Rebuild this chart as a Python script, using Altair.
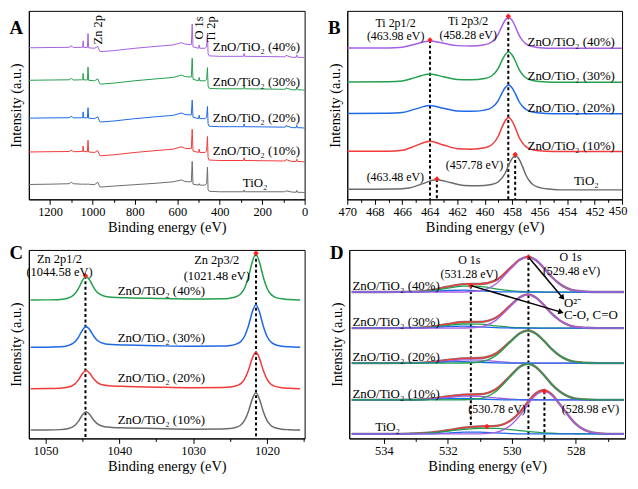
import math
import pandas as pd
import altair as alt

FONT = "Liberation Serif"
PURPLE = "#A65FE3"
GREEN = "#23A04E"
BLUE = "#1F68E6"
RED = "#F23A3A"
GRAY = "#6B6B6B"
MARK_RED = "#FF1F1F"

WA = 278
WB = 277
WC = 278
WD = 278
H1 = 190
H2 = 190

# ---------------- Panel A : survey spectra ----------------
A_X = [1300, 1200, 1110, 1100, 1090, 1050, 1046, 1044, 1042, 1024, 1021, 1018, 990, 975, 966, 960,
       900, 800, 700, 620, 580, 565, 545, 534, 530, 526, 500, 497, 494, 470, 462, 458, 455, 450,
       400, 288, 285, 282, 200, 100, 92, 88, 60, 40, 37, 34, 10, 0]
A_40 = [160, 160.3, 160.5, 162, 160.3, 160.5, 160.5, 167.3, 160.5, 160.3, 175, 160, 159.5, 161.5, 156.5, 156,
        157, 159.5, 161.5, 163, 165.5, 164, 163.5, 163.5, 185, 161, 159.5, 163, 159.5, 159.5, 161, 174, 154, 151.5,
        151, 151, 154, 151, 150.8, 150.5, 150.5, 152, 150, 150, 152.5, 150, 149.8, 149.5]
A_30 = [125.7, 126, 126.2, 127.7, 126, 126.2, 126.2, 133, 126.2, 126, 139.7, 125.7, 125.2, 127.2, 122.2, 121.7,
        122.7, 125.2, 127.2, 128.7, 131.2, 129.7, 129.2, 129.2, 149, 126.7, 125.2, 128.7, 125.2, 125.2, 126.7, 139, 119.7, 117.2,
        116.7, 116.7, 119.7, 116.7, 116.5, 116.2, 116.2, 117.7, 115.7, 115.7, 118.2, 115.7, 115.5, 115.2]
A_20 = [85.7, 86, 86.2, 87.7, 86, 86.2, 86.2, 92.3, 86.2, 86, 96.7, 85.7, 85.2, 87.2, 82.2, 81.7,
        82.7, 85.2, 87.2, 88.7, 91.2, 89.7, 89.2, 89.2, 104.7, 86.7, 85.2, 88.7, 85.2, 85.2, 86.7, 98, 79.7, 77.2,
        76.7, 76.7, 79.7, 76.7, 76.5, 76.2, 76.2, 77.7, 75.7, 75.7, 78.2, 75.7, 75.5, 75.2]
A_10 = [50, 50.3, 50.5, 52, 50.3, 50.5, 50.5, 56.3, 50.5, 50.3, 62.3, 50, 49.5, 51.5, 46.5, 46,
        47, 49.5, 51.5, 53, 55.5, 54, 53.5, 53.5, 74, 51, 49.5, 53, 49.5, 49.5, 51, 66.3, 44, 41.5,
        41, 41, 44, 41, 40.8, 40.5, 40.5, 42, 40, 40, 42.5, 40, 39.8, 39.5]
A_T = [15.7, 16, 16.5, 18, 16.5, 16, 16, 16, 16, 16, 16, 16, 15.5, 18, 13.5, 13,
       14, 15.5, 17, 18.5, 20.5, 19, 18.5, 18.5, 40, 16, 15, 16.5, 15, 15, 16.5, 34, 10, 8.5,
       8, 8, 10, 8, 8, 8, 8, 9, 7.7, 7.5, 9.5, 7.5, 7.3, 7.2]
A_LAB_T = ["ZnO/TiO\u2082 (40%)", "ZnO/TiO\u2082 (30%)", "ZnO/TiO\u2082 (20%)", "ZnO/TiO\u2082 (10%)", "TiO\u2082"]
A_LAB_X = [227, 227, 227, 227, 233]
A_LAB_Y = [160.7, 124, 85.7, 50.7, 17.3]
A_PK_T = ["Zn 2p", "O 1s", "Ti 2p"]
A_PK_X = [973.5, 497, 441]
A_PK_Y = [179, 181, 179.5]

# ---------------- Panel B : Ti 2p ----------------
B_X = [470, 467, 466, 465, 464, 463, 462, 461, 460, 459.5, 459, 458.75, 458.5, 458.25, 458, 457.75,
       457.5, 457.25, 457, 456.5, 456, 455, 450]
B_40 = [159.7, 159.8, 160.6, 164.1, 167.3, 164.8, 162.3, 161.9, 163.3, 166.0, 174.7, 182.7, 189.3, 192.3, 188.9, 181.8,
        173.4, 167.8, 164.2, 161.3, 160.1, 159.4, 159.4]
B_30 = [124.0, 124.1, 124.9, 128.8, 132.3, 129.5, 126.6, 126.2, 127.5, 130.2, 138.6, 146.4, 152.8, 155.7, 152.4, 145.5,
        137.3, 131.9, 128.4, 125.5, 124.4, 123.7, 123.7]
B_20 = [90.7, 90.8, 91.6, 95.5, 99.0, 96.2, 93.3, 92.9, 94.2, 96.7, 104.6, 111.9, 118.0, 120.7, 117.6, 111.0,
        103.3, 98.2, 94.9, 92.2, 91.1, 90.4, 90.4]
B_10 = [50.7, 50.8, 51.8, 56.7, 61.3, 57.4, 53.5, 53.0, 54.4, 57.4, 66.9, 75.7, 83.0, 86.3, 82.6, 74.8,
        65.6, 59.6, 55.6, 52.4, 51.2, 50.4, 50.4]
B_XT = [470, 466.5, 465.5, 464.5, 463.5, 462.5, 461.5, 460.5, 459.5, 459, 458.5, 458.25, 458, 457.75, 457.5, 457.25,
        457, 456.75, 456.5, 456, 455.5, 454.5, 450]
B_T = [10.7, 10.8, 11.9, 16.6, 20.7, 17.8, 14.7, 14.3, 15.7, 18.6, 27.8, 36.3, 43.3, 46.3, 42.6, 34.8,
       25.7, 19.6, 15.7, 12.4, 11.1, 10.0, 10.0]
B_LAB_X = [453.7, 453.7, 453.7, 453.7, 452.6]
B_LAB_Y = [165.7, 130, 96.7, 56.7, 19]
B_ANN_T = ["Ti 2p1/2", "(463.98 eV)", "Ti 2p3/2", "(458.28 eV)", "(463.48 eV)", "(457.78 eV)"]
B_ANN_X = [466.48, 466.48, 461.2, 461.2, 466.5, 460.74]
B_ANN_Y = [186.5, 172.2, 188, 173.7, 23.3, 36.3]
B_PK_X = [463.98, 458.28, 463.48, 457.78]
B_PK_Y = [168.3, 193.3, 21.5, 47.3]

# ---------------- Panel C : Zn 2p ----------------
C_X = [1052, 1050, 1048, 1047, 1046, 1045.5, 1045, 1044.5, 1044, 1043.5, 1043, 1042, 1041, 1039, 1035, 1030,
       1026, 1025, 1024, 1023.5, 1023, 1022.5, 1022, 1021.5, 1021, 1020.5, 1020, 1019.5, 1019, 1018, 1017, 1015.5]
C_40 = [144.7, 144.8, 145.3, 146.5, 151.1, 157.0, 164.9, 169.3, 165.4, 158.1, 152.7, 148.6, 147.6, 147.0, 146.3, 145.7,
        146.0, 146.6, 148.7, 151.5, 157.7, 169.0, 184.2, 192.7, 184.0, 168.7, 157.2, 150.9, 148.0, 145.9, 145.2, 144.7]
C_30 = [95.3, 95.4, 95.8, 96.9, 101.0, 106.2, 113.1, 117.0, 113.6, 107.3, 102.6, 99.0, 98.1, 97.6, 96.9, 96.3,
        96.5, 97.1, 99.1, 101.6, 107.3, 117.8, 131.9, 139.7, 131.7, 117.5, 106.8, 101.0, 98.4, 96.4, 95.7, 95.3]
C_20 = [52.0, 52.1, 52.5, 53.4, 57.0, 61.5, 67.6, 71.0, 68.1, 62.6, 58.6, 55.5, 54.8, 54.3, 53.6, 53.0,
        53.2, 53.7, 55.4, 57.5, 62.5, 71.5, 83.5, 90.3, 83.4, 71.2, 62.0, 56.9, 54.7, 53.0, 52.4, 52.0]
C_10 = [8.7, 8.8, 9.2, 10.1, 13.8, 18.4, 24.5, 28.0, 25.0, 19.5, 15.4, 12.2, 11.5, 11.0, 10.3, 9.7,
        9.9, 10.4, 12.1, 14.3, 19.3, 28.5, 40.8, 47.7, 40.7, 28.2, 18.8, 13.7, 11.4, 9.7, 9.1, 8.7]
C_LAB_X = [1034.3, 1034.3, 1034.3, 1034.3]
C_LAB_Y = [154.3, 104.7, 63, 18.7]
C_ANN_T = ["Zn 2p1/2", "(1044.58 eV)", "Zn 2p3/2", "(1021.48 eV)"]
C_ANN_X = [1048.1, 1048.1, 1026.8, 1026.8]
C_ANN_Y = [187.6, 174.4, 186, 170]
C_PK_X = [1044.58, 1021.48]
C_PK_Y = [170, 193.5]

# ---------------- Panel D : O 1s (fitted) ----------------
D_X = [535, 534, 533, 532.5, 532, 531.5, 531, 530.5, 530, 529.75, 529.5, 529.25, 529, 528.75, 528.5, 528,
       527.5, 527, 526.5]
D_BASE = [153.0, 115.3, 78.7, 40.3, 4.7]
D_MAIN = [
    [0, 0, 0, 0, 0, 0.1, 1.3, 8.4, 25.3, 33.3, 36.6, 33.3, 25.3, 15.7, 8.4, 1.3, 0.1, 0, 0],
    [0, 0, 0, 0, 0, 0.1, 1.2, 8.1, 24.2, 31.9, 35, 31.9, 24.2, 15.1, 8.1, 1.2, 0.1, 0, 0],
    [0, 0, 0, 0, 0, 0.1, 1.2, 7.8, 23.5, 30.9, 34, 30.9, 23.5, 14.6, 7.8, 1.2, 0.1, 0, 0],
    [0, 0, 0, 0, 0, 0.1, 1.3, 8.7, 26.0, 34.3, 37.7, 34.3, 26.0, 16.2, 8.7, 1.3, 0.1, 0, 0],
    [0, 0, 0, 0, 0, 0, 0.1, 1.6, 10.2, 19.1, 30.7, 40.5, 44.5, 40.5, 30.7, 10.2, 1.6, 0.1, 0],
]
D_SEC = [
    [0, 0, 0.3, 1.5, 4.0, 6.2, 5.9, 3.4, 1.2, 0.6, 0.2, 0.1, 0, 0, 0, 0, 0, 0, 0],
    [0, 0, 0.2, 1.0, 2.7, 4.3, 4.1, 2.3, 0.8, 0.4, 0.2, 0.1, 0, 0, 0, 0, 0, 0, 0],
    [0, 0, 0.2, 0.8, 2.1, 3.4, 3.2, 1.8, 0.6, 0.3, 0.1, 0, 0, 0, 0, 0, 0, 0, 0],
    [0, 0, 0.2, 0.9, 2.4, 3.8, 3.6, 2.1, 0.7, 0.3, 0.1, 0.1, 0, 0, 0, 0, 0, 0, 0],
    [0, 0, 0.6, 1.4, 3.0, 4.7, 5.8, 5.8, 4.4, 3.5, 2.6, 1.8, 1.2, 0.7, 0.4, 0.2, 0, 0, 0],
]
D_BLUE = [
    [0, 0, 0.1, 0.6, 1.6, 2.0, 1.2, 0.4, 0.1, 0, 0, 0, 0, 0, 0, 0, 0, 0, 0],
    [0, 0, 0.1, 0.6, 1.6, 2.0, 1.2, 0.4, 0.1, 0, 0, 0, 0, 0, 0, 0, 0, 0, 0],
    [0, 0, 0.1, 0.5, 1.2, 1.5, 0.9, 0.3, 0, 0, 0, 0, 0, 0, 0, 0, 0, 0, 0],
    [0, 0, 0.1, 0.5, 1.2, 1.5, 0.9, 0.3, 0, 0, 0, 0, 0, 0, 0, 0, 0, 0, 0],
    [0, 0, 0, 0.2, 0.8, 1.8, 1.9, 1.0, 0.3, 0.1, 0, 0, 0, 0, 0, 0, 0, 0, 0],
]
D_ENV = [
    [0, 0, 0.4, 2.1, 5.6, 8.3, 8.4, 12.2, 26.6, 33.9, 36.8, 33.4, 25.3, 15.7, 8.4, 1.3, 0.1, 0, 0],
    [0, 0, 0.3, 1.6, 4.3, 6.4, 6.5, 10.8, 25.1, 32.3, 35.2, 32.0, 24.2, 15.1, 8.1, 1.2, 0.1, 0, 0],
    [0, 0, 0.3, 1.3, 3.3, 5.0, 5.3, 9.9, 24.1, 31.2, 34.1, 30.9, 23.5, 14.6, 7.8, 1.2, 0.1, 0, 0],
    [0, 0, 0.3, 1.4, 3.6, 5.4, 5.8, 11.1, 26.7, 34.6, 37.8, 34.4, 26.0, 16.2, 8.7, 1.3, 0.1, 0, 0],
    [0, 0, 0.6, 1.6, 3.8, 6.5, 7.8, 8.4, 14.9, 22.7, 33.3, 42.3, 45.7, 41.2, 31.1, 10.4, 1.6, 0.1, 0],
]
D_MAIN_COL = [PURPLE, PURPLE, GREEN, GREEN, PURPLE]
D_SEC_COL = [GREEN, GREEN, PURPLE, PURPLE, GREEN]
D_LAB_T = A_LAB_T
D_LAB_X = [534.98, 534.98, 534.98, 534.98, 533.88]
D_LAB_Y = [159, 121.3, 84.7, 46.3, 12]
D_ANN_T = ["O 1s", "(531.28 eV)", "O 1s", "(529.48 eV)", "(530.78 eV)", "(528.98 eV)"]
D_ANN_X = [531.33, 531.33, 528.16, 528.13, 530.46, 527.54]
D_ANN_Y = [186.5, 172.3, 189.2, 175.0, 30.3, 30.3]
D_ANN2_T = ["O\u00b2\u207b", "C-O, C=O"]
D_ANN2_X = [528.37, 528.37]
D_ANN2_Y = [142, 128.7]
D_PK_X = [531.28, 529.48, 528.98, 530.78]
D_PK_Y = [159.7, 189.7, 49.3, 12.5]
D_DASH_X = [531.28, 529.48, 528.98]
D_DASH_Y = [159.7, 189.7, 49.3]
D_DASH_Y2 = [12, 0, 0]
D_ARR_X = [529.48, 531.28]
D_ARR_Y = [189.7, 159.7]
D_ARR_X2 = [528.41, 528.46]
D_ARR_Y2 = [147, 132]

A_DOM = (0, 1300)
B_DOM = (450, 470)
C_DOM = (1014.9, 1052.25)
D_DOM = (526.46, 535.08)
Y_TOP = 199
Y_BOT = 197

AXIS_STYLE = dict(labelFont=FONT, titleFont=FONT, labelColor="black", titleColor="black",
                  domainColor="black", tickColor="black", titleFontWeight="normal",
                  labelFontWeight="normal", labelFontSize=12.5, titleFontSize=14.5,
                  domainWidth=1, tickWidth=1)


def make_enc(dom, ticks, major, ymax, label_test=None):
    lt = major if label_test is None else label_test
    xaxis = alt.Axis(title="Binding energy (eV)", values=ticks, format="d",
                     labelExpr="(" + lt + ") ? datum.label : ''",
                     tickSize={"condition": {"test": major, "value": 5}, "value": 3},
                     grid=False, labelFlush=False, labelOverlap=False, labelPadding=1,
                     titlePadding=3, labelAngle=0, **AXIS_STYLE)
    xscale = alt.Scale(domain=list(dom), reverse=True, nice=False, zero=False)
    yaxis = alt.Axis(title="Intensity (a.u.)", labels=False, ticks=False, grid=False,
                     titlePadding=5, **AXIS_STYLE)
    yscale = alt.Scale(domain=[0, ymax], nice=False, zero=False)

    def X(f="x"):
        return alt.X(f + ":Q", scale=xscale, axis=xaxis)

    def Y(f="y"):
        return alt.Y(f + ":Q", scale=yscale, axis=yaxis)
    return X, Y


def series_df(xs_list, ys_list, colors, base=None):
    rows = []
    for i, (xs, ys, c) in enumerate(zip(xs_list, ys_list, colors)):
        b = 0 if base is None else base[i]
        for x, y in zip(xs, ys):
            rows.append({"x": x, "y": y + b, "s": str(i), "c": c})
    return pd.DataFrame(rows)


def lines(df, X, Y, width, interp):
    return alt.Chart(df).mark_line(strokeWidth=width, interpolate=interp).encode(
        x=X(), y=Y(), color=alt.Color("c:N", scale=None), detail="s:N")


def texts(ts, xs, ys, X, Y, size=13, align="center", baseline="middle", angle=0):
    df = pd.DataFrame({"x": xs, "y": ys, "t": ts})
    kw = dict(font=FONT, fontSize=size, color="black", align=align, baseline=baseline)
    if angle:
        kw["angle"] = angle
    return alt.Chart(df).mark_text(**kw).encode(x=X(), y=Y(), text="t:N")


def letter(ch, yoff):
    return alt.Chart(pd.DataFrame({"t": [ch]})).mark_text(
        font=FONT, fontSize=19, fontWeight="bold", align="left", baseline="top", color="black"
    ).encode(x=alt.value(-19.5), y=alt.value(yoff), text="t:N")


def dashes(xs, ys, y2s, X, Y):
    df = pd.DataFrame({"x": xs, "y": ys, "y2": y2s})
    return alt.Chart(df).mark_rule(color="black", strokeWidth=2, strokeDash=[3, 2.5]).encode(
        x=X(), y=Y(), y2=alt.Y2("y2"))


def markers(xs, ys, X, Y):
    df = pd.DataFrame({"x": xs, "y": ys})
    return alt.Chart(df).mark_point(shape="diamond", filled=True, size=30, color=MARK_RED, opacity=1).encode(
        x=X(), y=Y())


COLS5 = [PURPLE, GREEN, BLUE, RED, GRAY]

# ---- A ----
XA, YA = make_enc(A_DOM, list(range(0, 1201, 100)), "datum.value % 200 == 0", Y_TOP)
dfA = series_df([A_X] * 5, [A_40, A_30, A_20, A_10, A_T], COLS5)
panelA = alt.layer(
    lines(dfA, XA, YA, 1.0, "linear"),
    texts(A_LAB_T, A_LAB_X, A_LAB_Y, XA, YA),
    texts(A_PK_T, A_PK_X, A_PK_Y, XA, YA, size=12.5, angle=270),
    letter("A", 8),
).properties(width=WA, height=H1)

# ---- B ----
XB, YB = make_enc(B_DOM, list(range(450, 471)), "datum.value % 2 == 0", Y_TOP,
                  label_test="datum.value % 2 == 0 && datum.value != 450")
dfB = series_df([B_X, B_X, B_X, B_X, B_XT], [B_40, B_30, B_20, B_10, B_T], COLS5)
last_label = alt.Chart(pd.DataFrame({"t": ["450"]})).mark_text(
    font=FONT, fontSize=12.5, color="black", align="center", baseline="top"
).encode(x=alt.value(WB - 4), y=alt.value(H1 + 6), text="t:N")
panelB = alt.layer(
    dashes(B_PK_X, B_PK_Y, [0, 0, 0, 0], XB, YB),
    lines(dfB, XB, YB, 1.5, "monotone"),
    markers(B_PK_X, B_PK_Y, XB, YB),
    texts(A_LAB_T, B_LAB_X, B_LAB_Y, XB, YB),
    texts(B_ANN_T, B_ANN_X, B_ANN_Y, XB, YB, size=12),
    last_label,
    letter("B", 8),
).properties(width=WB, height=H1)

# ---- C ----
XC, YC = make_enc(C_DOM, list(range(1015, 1051, 5)), "datum.value % 10 == 0", Y_BOT)
dfC = series_df([C_X] * 4, [C_40, C_30, C_20, C_10], [GREEN, BLUE, RED, GRAY])
panelC = alt.layer(
    dashes(C_PK_X, C_PK_Y, [0, 0], XC, YC),
    lines(dfC, XC, YC, 1.5, "monotone"),
    markers(C_PK_X, C_PK_Y, XC, YC),
    texts(A_LAB_T[:4], C_LAB_X, C_LAB_Y, XC, YC),
    texts(C_ANN_T, C_ANN_X, C_ANN_Y, XC, YC, size=12.5),
    letter("C", -6),
).properties(width=WC, height=H2)

# ---- D ----
XD, YD = make_enc(D_DOM, list(range(527, 535)), "datum.value % 2 == 0", Y_BOT)
n = len(D_BASE)
df_env_g = series_df([D_X] * n, D_ENV, ["#7A7A7A"] * n, D_BASE)
df_env_r = series_df([D_X] * n, D_ENV, [RED] * n, D_BASE)
df_sec = series_df([D_X] * n, D_SEC, D_SEC_COL, D_BASE)
df_blue = series_df([D_X] * n, D_BLUE, [BLUE] * n, D_BASE)
df_main = series_df([D_X] * n, D_MAIN, D_MAIN_COL, D_BASE)

px_per_x = WD / (D_DOM[1] - D_DOM[0])
px_per_y = H2 / Y_BOT
angles = []
for x1, y1, x2, y2 in zip(D_ARR_X, D_ARR_Y, D_ARR_X2, D_ARR_Y2):
    dx = (x1 - x2) * px_per_x
    dy = (y1 - y2) * px_per_y
    angles.append(90 + math.degrees(math.atan2(dy, dx)))
df_arr = pd.DataFrame({"x": D_ARR_X, "y": D_ARR_Y, "x2": D_ARR_X2, "y2": D_ARR_Y2})
df_head = pd.DataFrame({"x": D_ARR_X2, "y": D_ARR_Y2, "a": angles})

panelD = alt.layer(
    dashes(D_DASH_X, D_DASH_Y, D_DASH_Y2, XD, YD),
    lines(df_env_g, XD, YD, 2.4, "monotone"),
    lines(df_env_r, XD, YD, 1.3, "monotone"),
    lines(df_sec, XD, YD, 1.3, "monotone"),
    lines(df_blue, XD, YD, 1.3, "monotone"),
    lines(df_main, XD, YD, 1.4, "monotone"),
    markers(D_PK_X, D_PK_Y, XD, YD),
    alt.Chart(df_arr).mark_rule(color="black", strokeWidth=1.5).encode(
        x=XD(), y=YD(), x2=alt.X2("x2"), y2=alt.Y2("y2")),
    alt.Chart(df_head).mark_point(shape="triangle-up", filled=True, size=40, color="black", opacity=1).encode(
        x=XD(), y=YD(), angle=alt.Angle("a:Q", scale=None)),
    texts(D_LAB_T[:4], D_LAB_X[:4], D_LAB_Y[:4], XD, YD, align="left"),
    texts(D_LAB_T[4:], D_LAB_X[4:], D_LAB_Y[4:], XD, YD),
    texts(D_ANN_T, D_ANN_X, D_ANN_Y, XD, YD, size=12),
    texts(D_ANN2_T, D_ANN2_X, D_ANN2_Y, XD, YD, align="left"),
    letter("D", -6),
).properties(width=WD, height=H2)

chart = alt.vconcat(
    alt.hconcat(panelA, panelB, spacing=18),
    alt.hconcat(panelC, panelD, spacing=23),
    spacing=8,
).properties(padding=0, background="white").configure_view(
    stroke="black", strokeWidth=1
)

chart.save("out.html", embed_options={"renderer": "svg", "actions": False})
